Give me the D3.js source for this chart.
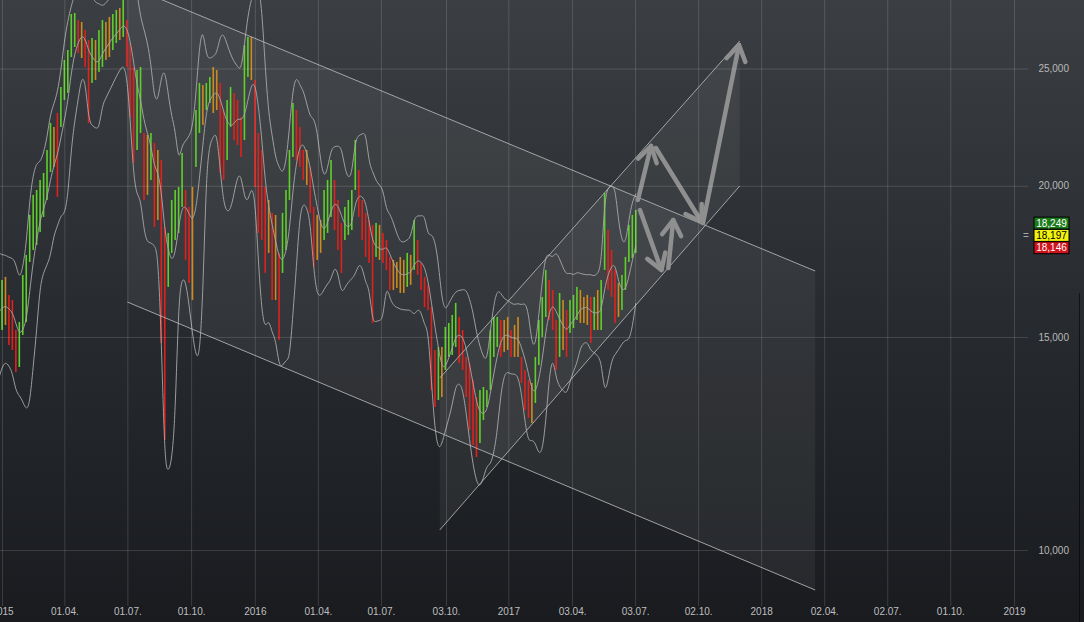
<!DOCTYPE html>
<html><head><meta charset="utf-8">
<script src="https://cdn.jsdelivr.net/npm/d3@7"></script>
<style>html,body{margin:0;padding:0;background:#1c1e22;overflow:hidden}svg{display:block}</style>
</head><body>
<svg id="c" width="1084" height="622"></svg>
<script>
// ---------------- DATA ----------------
const barStart = "2014-12-27";
const barStepDays = 5;
const highs = [16403,16718,16814,16249,16094,15200,15434,16879,17534,18920,
19654,19840,20222,20494,21409,22539,22367,22972,24136,25407,
25896,27732,27785,27416,27313,26900,26393,26494,26393,26900,
27416,27313,27574,27732,27943,28050,28480,27416,26244,25072,
24929,25072,22113,22030,22113,21697,21409,21006,18493,18283,
19467,19840,19955,21288,19840,19210,19955,23102,24321,24229,
24321,24600,25072,24929,24321,23102,23546,24136,23862,23546,
22798,26145,26545,26545,24459,22113,21409,19955,19467,18992,
18920,17600,18992,19840,21409,23413,23102,22367,21409,21409,
20729,19210,18920,18740,19840,20222,21006,20222,19467,18634,
19210,19467,19840,21820,20610,19467,18992,18740,18564,18634,
18564,18283,18040,17467,17367,17301,17467,17367,17600,17534,
18740,18040,17269,16814,16561,15881,14632,14717,14717,15288,
15404,15641,16003,15581,15200,14439,14275,13820,13380,13559,
13637,13559,15200,15581,15581,15492,15492,15581,15200,15346,
15581,14439,14085,13820,13742,14439,15492,16187,17039,16718,
16403,15492,16310,16094,15790,16094,16249,16498,16403,16187,
16249,16187,16187,16403,16718,19728,18387,17700,17039,16624,
16879,17467,18564,18920,19100];
const lows = [15057,15200,15346,14773,14632,14032,14166,15057,15434,17301,
17700,17870,18318,18848,19467,20532,20729,19579,22367,23546,
23862,25554,26045,25749,25505,25072,22539,24321,24459,24835,
25072,25407,25554,25896,26244,26393,26545,25072,22798,20887,
21409,22113,19467,19654,20222,18493,18740,14829,12328,16498,
17600,18040,18283,19210,17367,16624,16094,20729,22113,22453,
23102,23413,22972,23102,20494,20222,21006,22367,21820,21615,
21127,21820,24600,24459,19955,18283,18040,16943,17600,16094,
16094,14914,16943,17700,19467,21127,21006,20729,20222,20031,
18992,17137,17367,17600,18040,18283,18848,18387,17700,16943,
18040,18214,18387,19840,18848,18040,17467,17269,15404,17467,
17367,17269,17039,16403,16403,16466,16310,16310,16498,16561,
17039,16879,16403,15881,15790,13559,13128,13303,13380,14085,
14439,14494,14717,14275,14085,13380,12565,12212,11936,12258,
12807,13128,13559,14439,14717,14439,14577,14632,14439,14439,
14439,13742,13053,12856,12734,13228,14221,15000,15581,15492,
15200,14085,14439,14632,14439,15114,15258,15492,15404,15404,
15346,14829,15200,15200,15200,17039,16403,16187,15404,15581,
15790,16403,17301,17433,17600];

const xTickDates = ["2015-01-01","2015-04-01","2015-07-01","2015-10-01","2016-01-01","2016-04-01","2016-07-01","2016-10-03","2017-01-01","2017-04-03","2017-07-03","2017-10-02","2018-01-01","2018-04-02","2018-07-02","2018-10-01","2019-01-01"];
const xTickLabels = ["2015","01.04.","01.07.","01.10.","2016","01.04.","01.07.","03.10.","2017","03.04.","03.07.","02.10.","2018","02.04.","02.07.","01.10.","2019"];
const yTicks = [10000,15000,20000,25000];

// trend channels [date, value]
const downUpper = [["2015-07-01",29283],["2018-03-20",17006]];
const downLower = [["2015-07-01",16031],["2018-03-20",9267]];
const upUpper = [["2016-09-24",13873],["2017-12-01",26343]];
const upLower = [["2016-09-24",10388],["2017-12-01",19990]];

// forecast arrows [from, to]
const arrows = [
  [["2017-07-07",19465],["2017-07-26",21572]],
  [["2017-08-02",21490],["2017-10-07",18667]],
  [["2017-10-09",18632],["2017-11-30",26143]],
  [["2017-07-10",19098],["2017-08-10",17036]],
  [["2017-08-20",17101],["2017-08-27",18738]]
];

const quoteValues = [18249,18197,18146];
const quoteFill = ["#1b7a1b","#f2f20c","#d0121c"];
const quoteText = ["#ffffff","#000000","#ffffff"];

// ---------------- CHART ----------------
const W = 1084, H = 622, plotBottom = 606, plotRight = 1026;
const svg = d3.select("#c");
const parse = d3.utcParse("%Y-%m-%d");
const x = d3.scaleUtc().domain([parse("2015-01-01"), parse("2019-01-01")]).range([2, 1014]);
const y = d3.scaleLog().domain([10000, 25000]).range([550, 68.5]);
const P = d => [x(parse(d[0])), y(d[1])];

const defs = svg.append("defs");
const bg = defs.append("linearGradient").attr("id","bg").attr("x1",0).attr("y1",0).attr("x2",0).attr("y2",1);
bg.append("stop").attr("offset","0%").attr("stop-color","#3b3f43");
bg.append("stop").attr("offset","55%").attr("stop-color","#26292d");
bg.append("stop").attr("offset","100%").attr("stop-color","#191b1f");
defs.append("clipPath").attr("id","plot").append("rect").attr("x",0).attr("y",0).attr("width",plotRight).attr("height",plotBottom);

svg.append("rect").attr("width",W).attr("height",H).attr("fill","url(#bg)");

const plot = svg.append("g").attr("clip-path","url(#plot)");

// channel fills
const poly = (u,l) => d3.line()([P(u[0]),P(u[1]),P(l[1]),P(l[0])]) + "Z";
plot.append("path").attr("d", poly(downUpper, downLower)).attr("fill","rgba(255,255,255,0.055)");
plot.append("path").attr("d", poly(upUpper, upLower)).attr("fill","rgba(255,255,255,0.055)");

// grid via axes
const gx = svg.append("g").attr("class","xax")
  .call(d3.axisBottom(x).tickValues(xTickDates.map(parse)).tickFormat((d,i)=>xTickLabels[i]).tickSize(plotBottom).tickPadding(2));
gx.select(".domain").remove();
gx.selectAll("line").attr("stroke","rgba(255,255,255,0.14)");
gx.selectAll("text").attr("fill","#bfbfbf").style("font","10px 'Liberation Sans', Arial, sans-serif");

const gy = svg.append("g").call(d3.axisRight(y).tickValues(yTicks).tickFormat("").tickSize(1028));
gy.select(".domain").remove();
gy.selectAll("line").attr("stroke","rgba(255,255,255,0.14)");

const gyl = svg.append("g").attr("transform","translate(1069,0)")
  .call(d3.axisRight(y).tickValues(yTicks).tickFormat(d3.format(",")).tickSize(0).tickPadding(0));
gyl.select(".domain").remove();
gyl.selectAll("text").attr("text-anchor","end").attr("x",0).attr("fill","#b9b9b9").style("font","10px 'Liberation Sans', Arial, sans-serif");

// bars
const bars = highs.map((h,i)=>({date: d3.utcDay.offset(parse(barStart), i*barStepDays), h, l: lows[i], m:(h+lows[i])/2}));
bars.forEach((b,i)=>{
  const pm = i>0 ? bars[i-1].m : b.m;
  const r = b.m/pm - 1;
  b.c = r > 0.008 ? "#5fcf2b" : (r < -0.008 ? "#e2201c" : "#cf8a1d");
});
plot.append("g").selectAll("rect").data(bars).join("rect")
  .attr("x", d=>x(d.date)-0.8).attr("width", 1.6)
  .attr("y", d=>y(d.h)).attr("height", d=>Math.max(1, y(d.l)-y(d.h)))
  .attr("fill", d=>d.c);

// Bollinger bands (4 bars x 5 days = 20 days, 2 sigma) computed from bars
const N = 4;
const bb = bars.map((b,i)=>{
  const s=[];
  for(let j=Math.max(0,i-N+1); j<=i; j++){ s.push(bars[j].h, bars[j].l); }
  const m = d3.mean(s), sd = d3.deviation(s);
  return {date:b.date, m, u:m+2*sd, lo:m-2*sd};
});
const bandLine = key => d3.line().curve(d3.curveBasis).x(d=>x(d.date)).y(d=>y(Math.max(5000,d[key])));
["u","m","lo"].forEach(k=>{
  plot.append("path").datum(bb).attr("d", bandLine(k)).attr("fill","none")
    .attr("stroke","#a8a8a8").attr("stroke-width",1).attr("opacity",0.9);
});

// channel lines
[downUpper, downLower, upUpper, upLower].forEach(seg=>{
  const a=P(seg[0]), b=P(seg[1]);
  plot.append("line").attr("x1",a[0]).attr("y1",a[1]).attr("x2",b[0]).attr("y2",b[1])
    .attr("stroke","#b8b8b8").attr("stroke-width",1).attr("opacity",0.85);
});

// arrows
const ag = plot.append("g").attr("stroke","#8f8f8f").attr("stroke-width",4.5)
  .attr("stroke-linecap","round").attr("stroke-linejoin","round").attr("fill","none");
arrows.forEach(([f,t])=>{
  const a=P(f), b=P(t);
  const ang = Math.atan2(a[1]-b[1], a[0]-b[0]);
  const L = 18, sp = 32*Math.PI/180;
  const l1=[b[0]+L*Math.cos(ang+sp), b[1]+L*Math.sin(ang+sp)];
  const l2=[b[0]+L*Math.cos(ang-sp), b[1]+L*Math.sin(ang-sp)];
  ag.append("path").attr("d", d3.line()([a,b]));
  ag.append("path").attr("d", d3.line()([l1,b,l2]));
});

// last quote boxes
const qy = y(quoteValues[1]);
const qg = svg.append("g").style("font","10px 'Liberation Sans', Arial, sans-serif");
quoteValues.forEach((v,i)=>{
  const cy = qy + (i-1)*12.3;
  qg.append("rect").attr("x",1034).attr("y",cy-6).attr("width",35).attr("height",12)
    .attr("fill",quoteFill[i]).attr("stroke","#000").attr("stroke-width",1);
  qg.append("text").attr("x",1051.5).attr("y",cy).attr("dy","0.35em").attr("text-anchor","middle")
    .attr("fill",quoteText[i]).text(d3.format(",")(v));
});
qg.append("text").attr("x",1026).attr("y",qy).attr("dy","0.35em").attr("text-anchor","middle").attr("fill","#a8a8a8").text("=");

svg.append("line").attr("x1",1079.5).attr("x2",1079.5).attr("y1",293).attr("y2",H).attr("stroke","rgba(0,0,0,0.55)");
</script>
</body></html>
